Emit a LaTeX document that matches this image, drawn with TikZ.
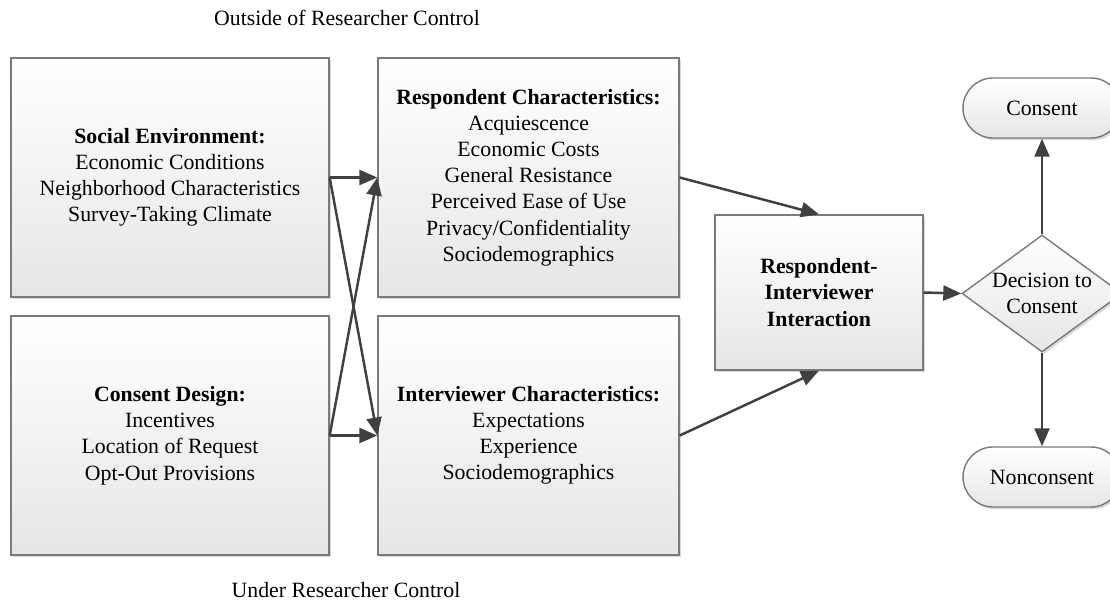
\documentclass[tikz,border=0pt]{standalone}
\usepackage{fontspec}
\setmainfont{Liberation Serif}
\usetikzlibrary{arrows.meta,shapes.geometric,shadows}
\definecolor{boxline}{HTML}{7A7A7A}
\definecolor{arrowgray}{HTML}{404040}
\definecolor{boxbottom}{HTML}{E6E6E6}

\begin{document}
\begin{tikzpicture}[x=0.02cm,y=-0.02cm,
  font=\fontsize{12.4}{14.9}\selectfont,
  box/.style={draw=boxline,line width=0.8pt,top color=white,bottom color=boxbottom,
    align=center,inner sep=2pt,
    drop shadow={shadow xshift=1.2pt,shadow yshift=-1.2pt,opacity=0.3,fill=gray}},
  link/.style={draw=arrowgray,line width=1.4pt,-{Triangle[length=0.36cm,width=0.3cm]}}]
\useasboundingbox (0,0) rectangle (1110,600);

% outside / under researcher control
\node[anchor=base] (outside) at (347,25) {Outside of Researcher Control};
\node[anchor=base] (under) at (346,597) {Under Researcher Control};

% factor boxes
\node[box,minimum width=6.36cm,minimum height=4.78cm] (social) at (170,177.5)
  {\textbf{Social Environment:}\\Economic Conditions\\Neighborhood Characteristics\\Survey-Taking Climate};
\node[box,minimum width=6.36cm,minimum height=4.78cm] (design) at (170,435.5)
  {\textbf{Consent Design:}\\Incentives\\Location of Request\\Opt-Out Provisions};
\node[box,minimum width=6.02cm,minimum height=4.78cm] (respchar) at (528.5,177.5)
  {\textbf{Respondent Characteristics:}\\Acquiescence\\Economic Costs\\General Resistance\\Perceived Ease of Use\\Privacy/Confidentiality\\Sociodemographics};
\node[box,minimum width=6.02cm,minimum height=4.78cm] (intchar) at (528.5,435.5)
  {\textbf{Interviewer Characteristics:}\\Expectations\\Experience\\Sociodemographics};
\node[box,minimum width=4.16cm,minimum height=3.1cm] (interact) at (819,292.5)
  {\textbf{Respondent-}\\\textbf{Interviewer}\\\textbf{Interaction}};

% decision and outcomes
\node[box,diamond,minimum width=3.2cm,minimum height=2.34cm,inner sep=0pt] (decide) at (1042,293.5) {};
\node[align=center] (decidetext) at (decide) {Decision to\\Consent};
\node[box,rounded corners=0.6cm,minimum width=3.16cm,minimum height=1.2cm] (consent) at (1042,108) {Consent};
\node[box,rounded corners=0.6cm,minimum width=3.16cm,minimum height=1.2cm] (noconsent) at (1042,477) {Nonconsent};

% arrows
\draw[link] (social.east) -- (respchar.west);
\draw[link] (social.east) -- (intchar.west);
\draw[link] (design.east) -- (respchar.west);
\draw[link] (design.east) -- (intchar.west);
\draw[link] (respchar.east) -- (interact.north);
\draw[link] (intchar.east) -- (interact.south);
\draw[link] (interact.east) -- (decide.west);
\draw[link] (decide.north) -- (consent.south);
\draw[link] (decide.south) -- (noconsent.north);
\end{tikzpicture}
\end{document}
